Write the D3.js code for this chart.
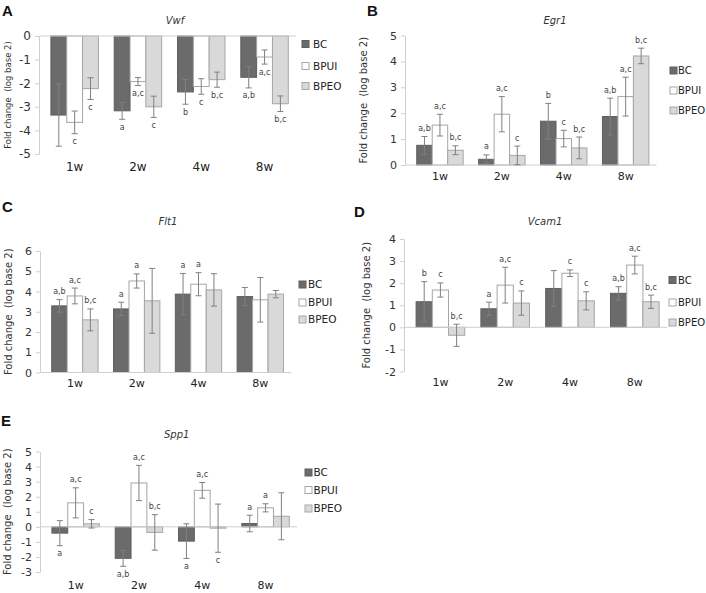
<!DOCTYPE html>
<html>
<head>
<meta charset="utf-8">
<script src="https://cdn.jsdelivr.net/npm/d3@7"></script>
<style>
  body { margin: 0; background: #fff; }
  svg { display: block; font-family: "DejaVu Sans", Verdana, sans-serif; }
</style>
</head>
<body>
<svg id="fig" width="706" height="593"></svg>
<script>
// categories
const weeks = ['1w', '2w', '4w', '8w'];
const groups = ['BC', 'BPUI', 'BPEO'];

// A - Vwf (rows: BC, BPUI, BPEO)
const vwfMean = [[-3.35, -3.17, -2.37, -1.75], [-3.66, -1.93, -2.14, -0.89], [-2.23, -3.00, -1.85, -2.87]];
const vwfErr = [[1.32, 0.36, 0.52, 0.45], [0.48, 0.17, 0.33, 0.30], [0.46, 0.45, 0.32, 0.33]];
const vwfSig = [['', 'a', 'b', 'a,b'], ['c', 'a,c', 'c', 'a,c'], ['c', 'c', 'b,c', 'b,c']];
const vwfSide = [['d', 'd', 'd', 'd'], ['d', 'd', 'd', 'd'], ['d', 'd', 'd', 'd']];

// B - Egr1
const egr1Mean = [[0.76, 0.22, 1.69, 1.87], [1.54, 1.96, 1.02, 2.64], [0.57, 0.37, 0.66, 4.21]];
const egr1Err = [[0.34, 0.17, 0.69, 0.71], [0.42, 0.68, 0.32, 0.75], [0.17, 0.36, 0.42, 0.30]];
const egr1Sig = [['a,b', 'a', 'b', 'a,b'], ['a,c', 'a,c', 'c', 'a,c'], ['b,c', 'c', 'b,c', 'b,c']];
const egr1Side = [['u', 'u', 'u', 'u'], ['u', 'u', 'u', 'u'], ['u', 'u', 'u', 'u']];

// C - Flt1
const flt1Mean = [[3.29, 3.14, 3.87, 3.75], [3.78, 4.52, 4.36, 3.59], [2.60, 3.54, 4.08, 3.87]];
const flt1Err = [[0.31, 0.33, 1.02, 0.45], [0.39, 0.35, 0.57, 1.10], [0.54, 1.60, 0.80, 0.18]];
const flt1Sig = [['a,b', 'a', 'a', ''], ['a,c', 'a', 'a', ''], ['b,c', '', '', '']];
const flt1Side = [['u', 'u', 'u', 'u'], ['u', 'u', 'u', 'u'], ['u', 'u', 'u', 'u']];

// D - Vcam1
const vcam1Mean = [[1.16, 0.84, 1.76, 1.54], [1.69, 1.91, 2.45, 2.82], [-0.36, 1.10, 1.20, 1.16]];
const vcam1Err = [[0.91, 0.30, 0.81, 0.30], [0.32, 0.81, 0.15, 0.40], [0.50, 0.55, 0.41, 0.30]];
const vcam1Sig = [['b', 'a', '', 'a,b'], ['c', 'a,c', 'c', 'a,c'], ['b,c', 'c', 'c', 'b,c']];
const vcam1Side = [['u', 'u', 'u', 'u'], ['u', 'u', 'u', 'u'], ['u', 'u', 'u', 'u']];

// E - Spp1
const spp1Mean = [[-0.42, -2.09, -0.95, 0.22], [1.59, 2.91, 2.42, 1.26], [0.20, -0.37, -0.09, 0.70]];
const spp1Err = [[0.83, 0.53, 1.15, 0.55], [1.00, 1.17, 0.52, 0.27], [0.28, 1.18, 1.60, 1.56]];
const spp1Sig = [['a', 'a,b', 'a', 'a'], ['a,c', 'a,c', 'a,c', 'a'], ['c', 'b,c', 'c', '']];
const spp1Side = [['d', 'd', 'd', 'u'], ['u', 'u', 'u', 'u'], ['u', 'u', 'd', 'u']];

const fills = ['#6b6b6b', '#ffffff', '#d9d9d9'];
const strokes = ['#5e5e5e', '#a6a6a6', '#a6a6a6'];
const axisColor = '#cfcfcf';
const errColor = '#808080';

const svg = d3.select('#fig');

// 画一个面板
function drawPanel(p, mean, err, sig, side) {
    const g = svg.append('g');
    const y = d3.scaleLinear().domain(p.domain).range([p.yBot, p.yTop]);
    const x0 = d3.scaleBand().domain(weeks).range([p.axisX + 4, p.axisX + 4 + 4 * p.band]);
    const x1 = d3.scaleBand().domain(groups).range([0, x0.bandwidth()]).paddingOuter(0.5);

    // y axis
    const yAxis = d3.axisLeft(y)
        .tickValues(d3.range(p.domain[0], p.domain[1] + 1))
        .tickFormat(d => String(d))
        .tickSize(4)
        .tickSizeOuter(0)
        .tickPadding(4);
    const ya = g.append('g').attr('transform', `translate(${p.axisX},0)`).call(yAxis);
    ya.select('.domain').attr('stroke', axisColor);
    ya.selectAll('.tick line').attr('stroke', axisColor);
    ya.selectAll('.tick text')
        .attr('fill', '#333')
        .style('font-size', p.tickFont + 'px')
        .style('font-family', '"DejaVu Sans", Verdana, sans-serif');

    // category labels under the plot
    const xAxis = d3.axisBottom(x0).tickSize(0).tickPadding(p.catPad);
    const xa = g.append('g').attr('transform', `translate(0,${p.yBot})`).call(xAxis);
    xa.select('.domain').remove();
    xa.selectAll('.tick text')
        .attr('fill', '#222')
        .style('font-size', p.catFont + 'px')
        .style('font-family', '"DejaVu Sans", Verdana, sans-serif');

    // bars
    groups.forEach((grp, i) => {
        weeks.forEach((w, j) => {
            const v = mean[i][j];
            g.append('rect')
                .attr('x', x0(w) + x1(grp))
                .attr('y', y(Math.max(0, v)))
                .attr('width', x1.bandwidth())
                .attr('height', Math.abs(y(v) - y(0)))
                .attr('fill', fills[i])
                .attr('stroke', strokes[i])
                .attr('stroke-width', 1);
        });
    });

    // zero line
    g.append('line')
        .attr('x1', p.axisX).attr('x2', x0.range()[1])
        .attr('y1', y(0)).attr('y2', y(0))
        .attr('stroke', axisColor);

    // error bars + letters
    groups.forEach((grp, i) => {
        weeks.forEach((w, j) => {
            const v = mean[i][j], e = err[i][j];
            const cx = x0(w) + x1(grp) + x1.bandwidth() / 2;
            const hi = y(v + e), lo = y(v - e);
            g.append('path')
                .attr('d', `M${cx},${hi}V${lo}M${cx - 3},${hi}H${cx + 3}M${cx - 3},${lo}H${cx + 3}`)
                .attr('stroke', errColor)
                .attr('stroke-width', 1)
                .attr('fill', 'none');
            if (sig[i][j]) {
                g.append('text')
                    .text(sig[i][j])
                    .attr('x', cx)
                    .attr('y', side[i][j] === 'u' ? hi - 5.5 : lo + 10.5)
                    .attr('text-anchor', 'middle')
                    .attr('fill', '#444')
                    .style('font-size', '8px');
            }
        });
    });

    // title
    g.append('text').text(p.title)
        .attr('x', p.titleX).attr('y', p.titleY)
        .attr('text-anchor', 'middle')
        .attr('fill', '#333')
        .style('font-size', '10px')
        .style('font-style', 'italic');

    // y label
    g.append('text').text('Fold change  (log base 2)')
        .attr('transform', `translate(${p.ylabX},${(p.yTop + p.yBot) / 2}) rotate(-90)`)
        .attr('text-anchor', 'middle')
        .attr('dy', '0.35em')
        .attr('fill', '#333')
        .style('white-space', 'pre')
        .style('font-size', p.ylabFont + 'px');

    // panel letter
    g.append('text').text(p.letter)
        .attr('x', p.letterX).attr('y', p.letterY)
        .attr('fill', '#111')
        .style('font-family', '"Liberation Sans", Arial, sans-serif')
        .style('font-weight', 'bold')
        .style('font-size', '15px');

    // legend
    groups.forEach((grp, i) => {
        const ly = p.legY[i];
        g.append('rect')
            .attr('x', p.legX).attr('y', ly - 3.5)
            .attr('width', 7).attr('height', 7)
            .attr('fill', fills[i]).attr('stroke', strokes[i]);
        g.append('text').text(grp)
            .attr('x', p.legX + p.legGap).attr('y', ly)
            .attr('dy', '0.36em')
            .attr('fill', '#222')
            .style('font-size', p.legFont + 'px');
    });
}

drawPanel({letter: 'A', letterX: 2, letterY: 16, title: 'Vwf', titleX: 175, titleY: 24,
    axisX: 39, yTop: 36, yBot: 154, domain: [-5, 0], band: 63.3, tickFont: 12, catFont: 12, catPad: 8,
    ylabX: 8, ylabFont: 8.5, legX: 302, legY: [44, 66, 86], legGap: 11, legFont: 10.5},
    vwfMean, vwfErr, vwfSig, vwfSide);

drawPanel({letter: 'B', letterX: 367, letterY: 16, title: 'Egr1', titleX: 555, titleY: 24,
    axisX: 405, yTop: 35.5, yBot: 165, domain: [0, 5], band: 61.9, tickFont: 11, catFont: 11, catPad: 7,
    ylabX: 363, ylabFont: 10, legX: 670, legY: [70.5, 90.5, 110.5], legGap: 8, legFont: 10},
    egr1Mean, egr1Err, egr1Sig, egr1Side);

drawPanel({letter: 'C', letterX: 2, letterY: 212, title: 'Flt1', titleX: 168, titleY: 225,
    axisX: 40, yTop: 251, yBot: 372.5, domain: [0, 6], band: 61.8, tickFont: 11, catFont: 11, catPad: 7,
    ylabX: 8, ylabFont: 10, legX: 299, legY: [284.5, 302.5, 319.5], legGap: 9, legFont: 10.5},
    flt1Mean, flt1Err, flt1Sig, flt1Side);

drawPanel({letter: 'D', letterX: 354, letterY: 217, title: 'Vcam1', titleX: 545, titleY: 225,
    axisX: 404, yTop: 239, yBot: 371.5, domain: [-2, 4], band: 64.8, tickFont: 11, catFont: 11, catPad: 7,
    ylabX: 366, ylabFont: 10, legX: 669, legY: [280, 302.5, 322.5], legGap: 9, legFont: 10},
    vcam1Mean, vcam1Err, vcam1Sig, vcam1Side);

drawPanel({letter: 'E', letterX: 1, letterY: 426, title: 'Spp1', titleX: 176.7, titleY: 438,
    axisX: 40, yTop: 451.5, yBot: 572, domain: [-3, 5], band: 63.3, tickFont: 11, catFont: 11, catPad: 9,
    ylabX: 7, ylabFont: 10, legX: 305, legY: [472.5, 490, 508.5], legGap: 8.5, legFont: 10.5},
    spp1Mean, spp1Err, spp1Sig, spp1Side);
</script>
</body>
</html>
